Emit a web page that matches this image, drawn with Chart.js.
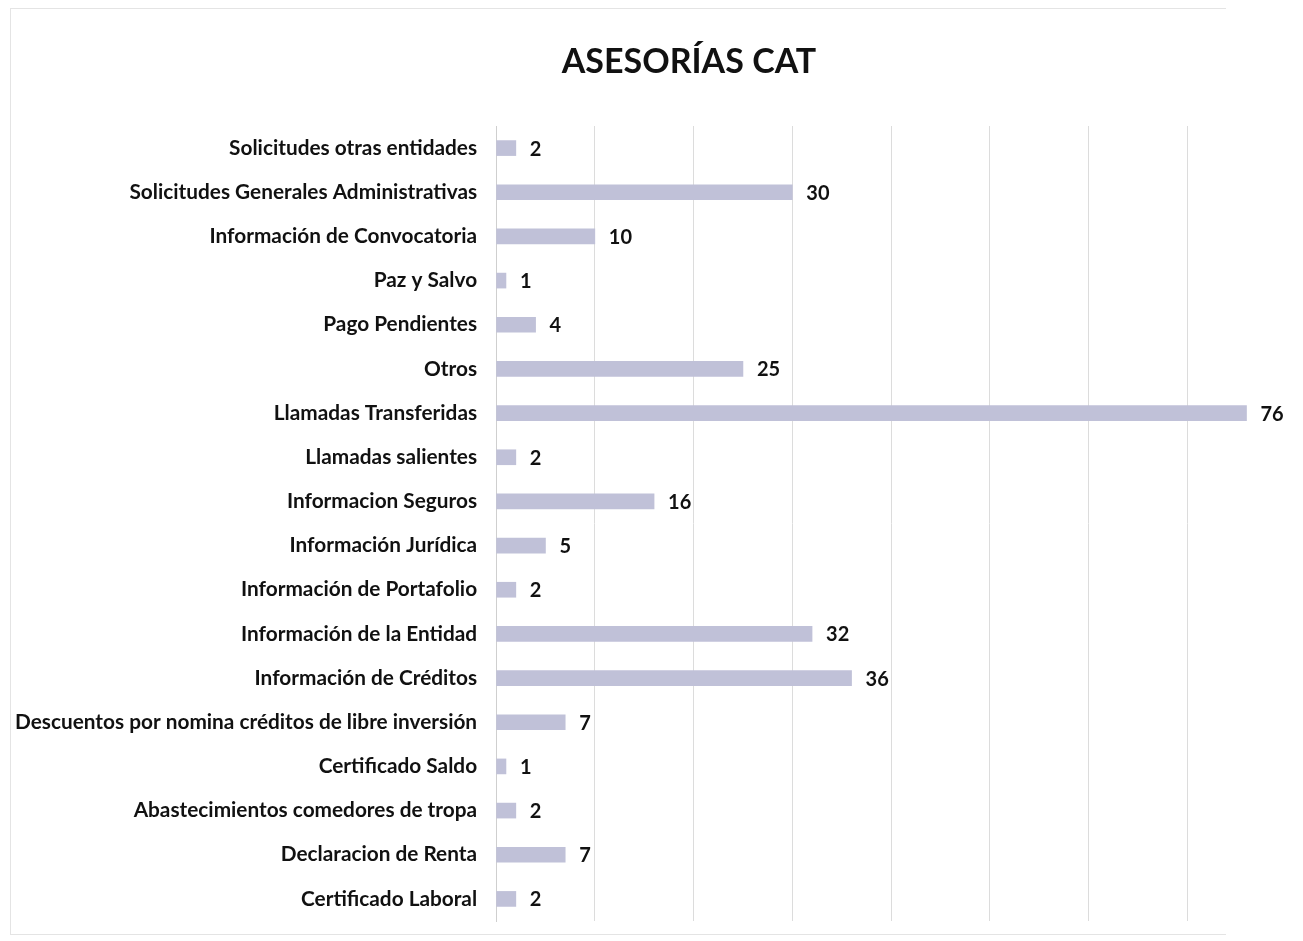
<!DOCTYPE html>
<html>
<head>
<meta charset="utf-8">
<script src="https://cdn.jsdelivr.net/npm/chart.js@4.4.1/dist/chart.umd.min.js"></script>
<style>
    html, body { margin: 0; padding: 0; background: #fff; }
    #wrap { position: absolute; left: 0; top: 0; width: 1303px; height: 941px; }
    #frame { position: absolute; left: 10px; top: 8px; width: 1215px; height: 925px; border: 1px solid #e4e4e4; border-right: none; }
</style>
</head>
<body>
<div id="wrap">
    <div id="frame"></div>
    <canvas id="asesorias"></canvas>
</div>
<script>
const titulo = 'ASESORÍAS CAT';
const categorias = [
    'Solicitudes otras entidades',
    'Solicitudes Generales Administrativas',
    'Información de Convocatoria',
    'Paz y Salvo',
    'Pago Pendientes',
    'Otros',
    'Llamadas Transferidas',
    'Llamadas salientes',
    'Informacion Seguros',
    'Información Jurídica',
    'Información de Portafolio',
    'Información de la Entidad',
    'Información de Créditos',
    'Descuentos por nomina créditos de libre inversión',
    'Certificado Saldo',
    'Abastecimientos comedores de tropa',
    'Declaracion de Renta',
    'Certificado Laboral'
];
const valores = [2, 30, 10, 1, 4, 25, 76, 2, 16, 5, 2, 32, 36, 7, 1, 2, 7, 2];
const marcasX = [0, 10, 20, 30, 40, 50, 60, 70, 80];

// titulo y etiquetas de valor al final de cada barra
const etiquetas = {
    id: 'etiquetas',
    afterDatasetsDraw(chart) {
        const ctx = chart.ctx;
        const meta = chart.getDatasetMeta(0);
        ctx.save();
        ctx.font = 'bold 20px Lato, sans-serif';
        ctx.fillStyle = '#111';
        ctx.textAlign = 'left';
        ctx.textBaseline = 'middle';
        meta.data.forEach(function (bar, i) {
            ctx.fillText(String(valores[i]), bar.x + 14, bar.y + 1);
        });

        ctx.font = 'bold 34px Lato, sans-serif';
        ctx.textAlign = 'center';
        ctx.fillText(titulo, 689, 62);
        ctx.restore();
    }
};

window.onload = function () {
    const grfc = document.getElementById('asesorias');

    new Chart(grfc, {
        type: 'bar',
        data: {
            labels: categorias,
            datasets: [{
                data: valores,
                backgroundColor: '#c0c1d8',
                borderWidth: 0,
                barThickness: 15
            }]
        },
        options: {
            indexAxis: 'y',
            responsive: true,
            maintainAspectRatio: false,
            animation: false,
            layout: {
                padding: { left: 4, right: 17, top: 126, bottom: 20 }
            },
            scales: {
                x: {
                    min: 0,
                    max: 80,
                    afterBuildTicks: function (axis) {
                        axis.ticks = marcasX.map(function (v) { return { value: v }; });
                    },
                    afterFit: function (axis) { axis.height = 0; },
                    ticks: { display: false },
                    border: { display: false },
                    grid: {
                        color: function (c) {
                            return c.tick && c.tick.value === 80 ? 'rgba(0,0,0,0)' : '#dcdcdc';
                        },
                        drawTicks: false
                    }
                },
                y: {
                    afterFit: function (axis) {
                        axis.paddingTop = 0;
                        axis.paddingBottom = 0;
                    },
                    ticks: {
                        color: '#111',
                        font: { family: 'Lato, sans-serif', size: 20.8, weight: 'bold' },
                        padding: 11,
                        autoSkip: false
                    },
                    border: { display: true, color: '#cfcfcf' },
                    grid: { display: false }
                }
            },
            plugins: {
                legend: { display: false },
                tooltip: { enabled: false },
                title: { display: false }
            }
        },
        plugins: [etiquetas]
    });
};
</script>
</body>
</html>
